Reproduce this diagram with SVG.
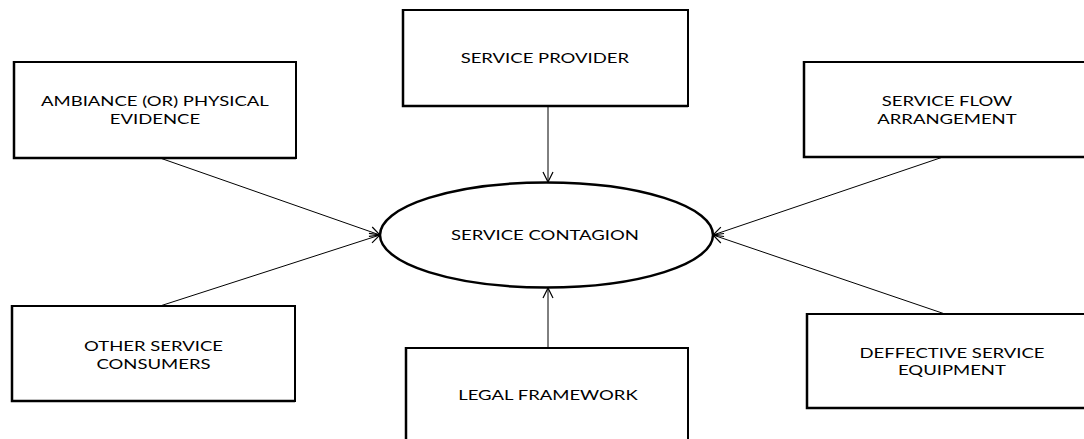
<svg xmlns="http://www.w3.org/2000/svg" width="1084" height="439" viewBox="0 0 1084 439">
  <style>
    .box { fill: #fff; stroke: #000; stroke-width: 2; }
    .edge { fill: none; stroke: #000; stroke-width: 2.5; }
    .lbl { font-family: Lato, "Open Sans", sans-serif; font-size: 13.5px; fill: #000; text-anchor: middle;
           transform-box: fill-box; transform-origin: center; transform: scaleX(1.37); }
    .conn { stroke: #000; stroke-width: 1; fill: none; marker-end: url(#head); }
  </style>
  <defs>
    <marker id="head" viewBox="0 0 12 12" refX="11" refY="6" markerWidth="12" markerHeight="12" markerUnits="userSpaceOnUse" orient="auto">
      <path d="M1,1 L11,6 L1,11" fill="none" stroke="#000" stroke-width="1.2"/>
    </marker>
  </defs>
  <rect width="1084" height="439" fill="#fff"/>

  <g id="connectors">
    <line class="conn" x1="160" y1="158" x2="380" y2="235"/>
    <line class="conn" x1="160" y1="306" x2="380" y2="235"/>
    <line class="conn" x1="548" y1="106" x2="548" y2="182"/>
    <line class="conn" x1="548" y1="348" x2="548" y2="288"/>
    <line class="conn" x1="943" y1="157" x2="713" y2="235"/>
    <line class="conn" x1="945" y1="314" x2="713" y2="235"/>
  </g>

  <g id="ambiance">
    <rect class="box" x="14" y="62" width="282" height="96"/>
    <path class="edge" d="M14,61 V158 H296"/>
    <text class="lbl" x="155" y="106">AMBIANCE (OR) PHYSICAL</text>
    <text class="lbl" x="155" y="124">EVIDENCE</text>
  </g>

  <g id="provider">
    <rect class="box" x="403" y="10" width="285" height="96"/>
    <path class="edge" d="M403,9 V106 H688"/>
    <text class="lbl" x="545" y="63">SERVICE PROVIDER</text>
  </g>

  <g id="flow">
    <rect class="box" x="804" y="62" width="290" height="95"/>
    <path class="edge" d="M804,61 V157 H1094"/>
    <text class="lbl" x="947" y="106">SERVICE FLOW</text>
    <text class="lbl" x="947" y="124">ARRANGEMENT</text>
  </g>

  <g id="contagion">
    <ellipse cx="546.5" cy="235" rx="166.5" ry="52.5" fill="#fff" stroke="#000" stroke-width="2.5"/>
    <text class="lbl" x="545" y="240">SERVICE CONTAGION</text>
  </g>

  <g id="consumers">
    <rect class="box" x="12" y="306" width="283" height="95"/>
    <path class="edge" d="M12,305 V401 H295"/>
    <text class="lbl" x="153.5" y="351">OTHER SERVICE</text>
    <text class="lbl" x="153.5" y="369">CONSUMERS</text>
  </g>

  <g id="legal">
    <rect class="box" x="406" y="348" width="282" height="100"/>
    <path class="edge" d="M406,347 V448"/>
    <text class="lbl" x="548" y="400">LEGAL FRAMEWORK</text>
  </g>

  <g id="equipment">
    <rect class="box" x="807" y="314" width="290" height="94"/>
    <path class="edge" d="M807,313 V408 H1097"/>
    <text class="lbl" x="952" y="358">DEFFECTIVE SERVICE</text>
    <text class="lbl" x="952" y="375">EQUIPMENT</text>
  </g>
</svg>
